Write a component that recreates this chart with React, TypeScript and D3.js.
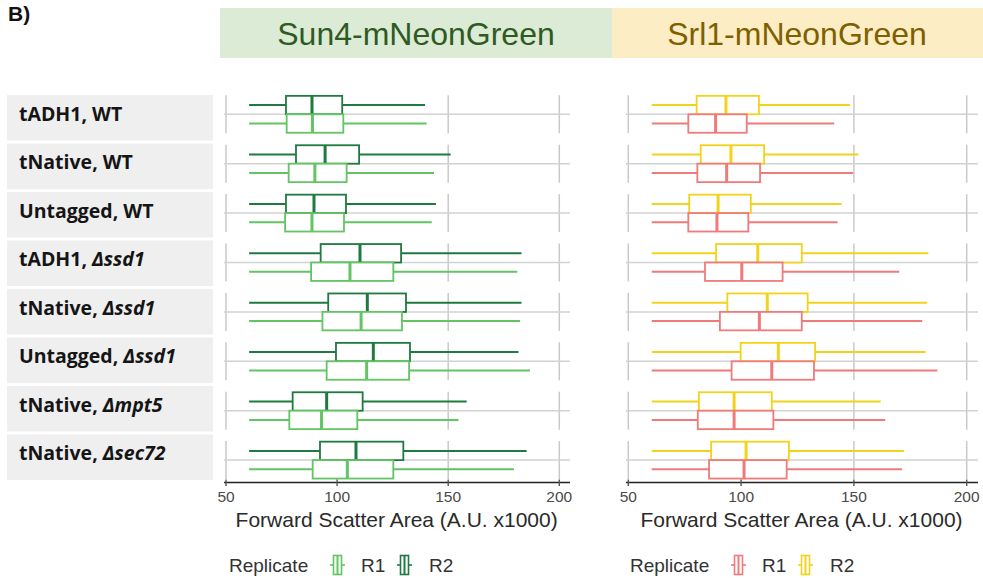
import React from "react";
import * as d3 from "d3";

const labelMain = ["tADH1, WT", "tNative, WT", "Untagged, WT", "tADH1, ", "tNative, ", "Untagged, ", "tNative, ", "tNative, "];
const labelItalic = ["", "", "", "Δssd1", "Δssd1", "Δssd1", "Δmpt5", "Δsec72"];
const rowKeys = labelMain.map((m, i) => m + labelItalic[i]);

const xTicks = [50, 100, 150, 200];
const replicates = ["R2", "R1"];

// [lower whisker, Q1, median, Q3, upper whisker]
const sun4R2 = [
  [60.4, 77, 88.7, 102.3, 139.6],
  [60.4, 81.5, 94.6, 109.9, 151.1],
  [60.4, 77, 89.6, 104, 144.5],
  [60.4, 92.6, 110.3, 128.8, 183],
  [60.4, 96, 113.6, 131, 183],
  [60.4, 99.5, 116.3, 132.8, 181.6],
  [60.4, 80, 95.3, 111.5, 158.3],
  [60.4, 92.3, 108.5, 129.8, 185.3],
];
const sun4R1 = [
  [60.4, 77.3, 88.9, 102.8, 140.3],
  [60.4, 78.2, 90, 104.3, 143.6],
  [60.4, 76.6, 88.7, 103.1, 142.6],
  [60.4, 88.3, 105.8, 125.3, 181.1],
  [60.4, 93.4, 110.8, 129.2, 182.3],
  [60.4, 95.3, 113.3, 132.4, 186.8],
  [60.4, 78.5, 93, 109.1, 154.6],
  [60.4, 89, 104.6, 125.3, 179.6],
];
const srl1R2 = [
  [60.4, 80.3, 93.3, 107.9, 148.3],
  [60.4, 82.1, 95.5, 110.2, 152],
  [60.4, 77, 89.8, 104.3, 144.6],
  [60.4, 88.9, 107.4, 126.9, 183],
  [60.4, 93.9, 111.6, 129.5, 182.5],
  [60.4, 99.8, 116.5, 132.8, 181.8],
  [60.4, 81.3, 96.9, 113.6, 161.9],
  [60.4, 86.7, 102.2, 121.2, 172.2],
];
const srl1R1 = [
  [60.4, 76.6, 88.7, 102.5, 141.3],
  [60.4, 80.6, 93.6, 108.4, 149.7],
  [60.4, 76.6, 89.3, 103.2, 142.8],
  [60.4, 84, 100.3, 118.4, 170.1],
  [60.4, 90.6, 108.1, 126.9, 180.3],
  [60.4, 95.8, 113.6, 132.3, 187],
  [60.4, 80.8, 96.9, 114.3, 163.9],
  [60.4, 85.8, 101.3, 120.2, 171.3],
];

const FONT = "'Liberation Sans', Arial, sans-serif";
const LABEL_FONT = "'Open Sans', Lato, sans-serif";

const yBand = d3.scaleBand<string>().domain(rowKeys).range([95.3, 479.1]).paddingInner(0.231).paddingOuter(0);
const labelBand = d3.scaleBand<string>().domain(rowKeys).range([95, 480]).paddingInner(0.06).paddingOuter(0);
const subBand = d3.scaleBand<string>().domain(replicates).range([0, yBand.bandwidth()]).paddingOuter(0.03).paddingInner(0);

type PanelProps = {
  x0: number; x1: number; panelL: number; panelR: number;
  r1: number[][]; r2: number[][]; c1: string; c2: string;
};

function Panel({ x0, x1, panelL, panelR, r1, r2, c1, c2 }: PanelProps) {
  const x = d3.scaleLinear().domain([50, 200]).range([x0, x1]);
  const axisY = 482.5;
  const series: Record<string, { data: number[][]; color: string }> = {
    R2: { data: r2, color: c2 },
    R1: { data: r1, color: c1 },
  };
  return (
    <g>
      {rowKeys.map((k, i) => {
        const top = yBand(k)!;
        const bw = yBand.bandwidth();
        return (
          <g key={k}>
            {xTicks.map((t) => (
              <line key={t} x1={x(t)} x2={x(t)} y1={top} y2={top + bw} stroke="#c9c9c9" strokeWidth={1.5} />
            ))}
            <line x1={panelL} x2={panelR} y1={top + bw / 2} y2={top + bw / 2} stroke="#d2d2d2" strokeWidth={1.5} />
            {replicates.map((r) => {
              const d = series[r].data[i];
              const col = series[r].color;
              const sy = top + subBand(r)!;
              const sh = subBand.bandwidth();
              const cy = sy + sh / 2;
              return (
                <g key={r}>
                  <line x1={x(d[0])} x2={x(d[1])} y1={cy} y2={cy} stroke={col} strokeWidth={2} />
                  <line x1={x(d[3])} x2={x(d[4])} y1={cy} y2={cy} stroke={col} strokeWidth={2} />
                  <rect x={x(d[1])} y={sy} width={x(d[3]) - x(d[1])} height={sh} fill="white" stroke={col} strokeWidth={1.8} />
                  <line x1={x(d[2])} x2={x(d[2])} y1={sy} y2={sy + sh} stroke={col} strokeWidth={3} />
                </g>
              );
            })}
          </g>
        );
      })}
      <line x1={panelL} x2={panelR} y1={axisY} y2={axisY} stroke="#222" strokeWidth={1.6} />
      {xTicks.map((t) => (
        <g key={t}>
          <line x1={x(t)} x2={x(t)} y1={axisY - 3} y2={axisY + 3.5} stroke="#555" strokeWidth={1.4} />
          <text x={x(t)} y={501.5} textAnchor="middle" fontSize={15.5} fill="#4a4a4a" fontFamily={FONT}>{t}</text>
        </g>
      ))}
      <text x={(x0 + x1) / 2 + 4} y={526.5} textAnchor="middle" fontSize={21} fill="#2a2a2a" fontFamily={FONT}>
        Forward Scatter Area (A.U. x1000)
      </text>
    </g>
  );
}

function LegendKey({ x, y, color }: { x: number; y: number; color: string }) {
  const w = 15, h = 19;
  return (
    <g>
      <line x1={x} x2={x + 3.5} y1={y} y2={y} stroke={color} strokeWidth={1.6} />
      <line x1={x + w - 3.5} x2={x + w} y1={y} y2={y} stroke={color} strokeWidth={1.6} />
      <rect x={x + 3.5} y={y - h / 2} width={w - 7} height={h} fill="white" stroke={color} strokeWidth={1.6} />
      <line x1={x + w / 2} x2={x + w / 2} y1={y - h / 2} y2={y + h / 2} stroke={color} strokeWidth={2} />
    </g>
  );
}

function Legend({ x0, c1, c2 }: { x0: number; c1: string; c2: string }) {
  const y = 565;
  return (
    <g fontFamily={FONT} fontSize={19} fill="#333">
      <text x={x0} y={y + 7}>Replicate</text>
      <LegendKey x={x0 + 101} y={y} color={c1} />
      <text x={x0 + 132} y={y + 7}>R1</text>
      <LegendKey x={x0 + 168} y={y} color={c2} />
      <text x={x0 + 200} y={y + 7}>R2</text>
    </g>
  );
}

export default function App() {
  const W = 983, H = 578;
  const green1 = "#62c462";
  const green2 = "#1f7a40";
  const red1 = "#f07a7a";
  const yellow2 = "#f2d31b";
  return (
    <svg width={W} height={H} style={{ position: "absolute", left: 0, top: 0, background: "white" }}>
      <rect width={W} height={H} fill="white" />
      <text x={8} y={21} fontSize={21} fontWeight="bold" fontFamily={FONT} fill="#111">B)</text>
      <rect x={220} y={8} width={392} height={50} fill="#dcebd5" />
      <text x={416} y={45} textAnchor="middle" fontSize={32} fill="#2f5a22" fontFamily={FONT}>Sun4-mNeonGreen</text>
      <rect x={612} y={8} width={371} height={50} fill="#fdedc4" />
      <text x={797} y={45} textAnchor="middle" fontSize={32} fill="#7f6000" fontFamily={FONT}>Srl1-mNeonGreen</text>
      {rowKeys.map((k, i) => {
        const top = labelBand(k)!;
        const bh = labelBand.bandwidth();
        return (
          <g key={k}>
            <rect x={7} y={top} width={206} height={bh} fill="#efefef" />
            <text x={19} y={top + bh / 2 - 2} dominantBaseline="middle" fontSize={19.5} fontWeight="bold" fill="#151515" fontFamily={LABEL_FONT}>
              {labelMain[i]}
              {labelItalic[i] && <tspan fontStyle="italic">{labelItalic[i]}</tspan>}
            </text>
          </g>
        );
      })}
      <Panel x0={226} x1={559.3} panelL={224} panelR={570} r1={sun4R1} r2={sun4R2} c1={green1} c2={green2} />
      <Panel x0={628.3} x1={966.7} panelL={626} panelR={978} r1={srl1R1} r2={srl1R2} c1={red1} c2={yellow2} />
      <Legend x0={229} c1={green1} c2={green2} />
      <Legend x0={630} c1={red1} c2={yellow2} />
    </svg>
  );
}
